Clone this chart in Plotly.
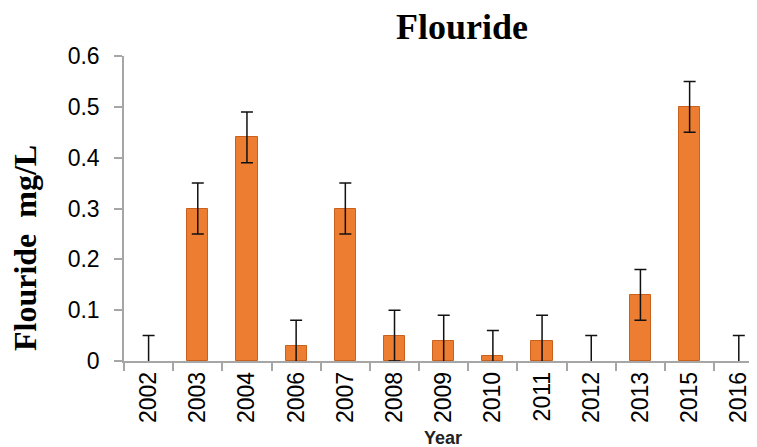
import plotly.graph_objects as go

years = ["2002", "2003", "2004", "2006", "2007", "2008", "2009", "2010",
         "2011", "2012", "2013", "2015", "2016"]
fluoride = [0, 0.30, 0.44, 0.03, 0.30, 0.05, 0.04, 0.01, 0.04, 0, 0.13, 0.50, 0]
err = [0.05] * len(years)

# page has an 8px body margin; work in page pixels and subtract it
OFF = 8
W, H = 757 - OFF, 447 - OFF
ml, mr, mt, mb = 124 - OFF, 0, 56 - OFF, 447 - 361
pw, ph = W - ml - mr, H - mt - mb

def px_x(x):
    return (x - OFF - ml) / pw

def px_y(y):
    return (H - mb - (y - OFF)) / ph

outline_w = [1 if v > 0 else 0 for v in fluoride]

fig = go.Figure()
fig.add_trace(go.Bar(
    x=years, y=fluoride,
    width=0.43,
    marker=dict(color="#ED7D31", line=dict(color="#C8601E", width=outline_w)),
    error_y=dict(type="data", array=err, visible=True, color="#111111",
                 thickness=1.5, width=6),
))

fig.update_layout(
    width=W, height=H,
    margin=dict(l=ml, r=mr, t=mt, b=mb, autoexpand=False),
    plot_bgcolor="white", paper_bgcolor="white",
    showlegend=False,
    bargap=0,
    xaxis=dict(
        type="category",
        range=[-0.5, 12.37],
        showline=True, linecolor="#A6A6A6", linewidth=1.5,
        ticks="outside", tickson="boundaries", ticklen=8, tickcolor="#A6A6A6",
        tickwidth=1.5,
        tickangle=-90,
        tickfont=dict(family="Liberation Sans", size=23, color="black"),
        showgrid=False, zeroline=False,
    ),
    yaxis=dict(
        range=[0, 0.6],
        tickvals=[0, 0.1, 0.2, 0.3, 0.4, 0.5, 0.6],
        ticktext=["0", "0.1", "0.2", "0.3", "0.4", "0.5", "0.6"],
        showline=True, linecolor="#A6A6A6", linewidth=1.5,
        ticks="outside", ticklen=8, tickcolor="#A6A6A6", tickwidth=1.5,
        ticklabelstandoff=10,
        tickfont=dict(family="Liberation Sans", size=23, color="black"),
        showgrid=False, zeroline=False,
    ),
)

fig.add_annotation(
    text="<b>Flouride</b>", xref="paper", yref="paper",
    x=px_x(462), y=px_y(27),
    xanchor="center", yanchor="middle", showarrow=False,
    font=dict(family="Liberation Serif", size=36, color="black"),
)
fig.add_annotation(
    text="<b>Flouride  mg/L</b>", xref="paper", yref="paper",
    x=px_x(25), y=px_y(248),
    xanchor="center", yanchor="middle", textangle=-90, showarrow=False,
    font=dict(family="Liberation Serif", size=32, color="black"),
)
fig.add_annotation(
    text="<b>Year</b>", xref="paper", yref="paper",
    x=px_x(443), y=px_y(437.5),
    xanchor="center", yanchor="middle", showarrow=False,
    font=dict(family="Liberation Sans", size=18, color="#222222"),
)

fig.write_html("out.html")
